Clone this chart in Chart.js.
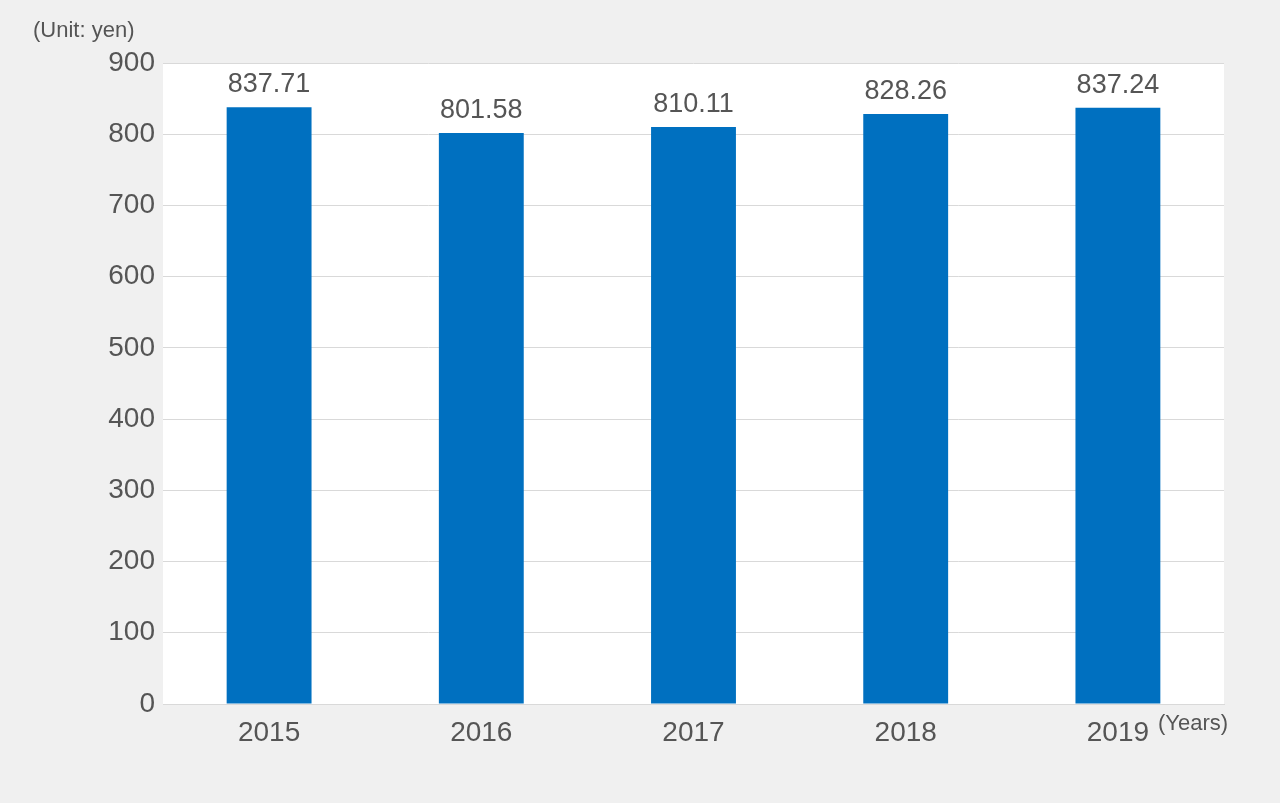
<!DOCTYPE html>
<html>
<head>
<meta charset="utf-8">
<script src="https://cdn.jsdelivr.net/npm/chart.js@4"></script>
<style>
  html, body { margin: 0; padding: 0; background: #f0f0f0; }
  #wrap { position: relative; width: 1280px; height: 803px; }
</style>
</head>
<body>
<div id="wrap"><canvas id="chart" width="1280" height="803"></canvas></div>
<script>
// Chart data
const years = ['2015', '2016', '2017', '2018', '2019'];
const values = [837.71, 801.58, 810.11, 828.26, 837.24];
const valueLabels = ['837.71', '801.58', '810.11', '828.26', '837.24'];

const FONT = 'Arial, "Liberation Sans", sans-serif';
const TEXT = '#555555';

// White plot area, value labels and unit texts
const extras = {
  id: 'extras',
  beforeDraw(chart) {
    const { ctx, chartArea: a } = chart;
    ctx.save();
    ctx.fillStyle = '#ffffff';
    ctx.fillRect(a.left, a.top, a.right - a.left, a.bottom - a.top);
    ctx.restore();
  },
  afterDatasetsDraw(chart) {
    const ctx = chart.ctx;
    const meta = chart.getDatasetMeta(0);
    ctx.save();
    ctx.fillStyle = TEXT;
    ctx.font = '27px ' + FONT;
    ctx.textAlign = 'center';
    ctx.textBaseline = 'bottom';
    meta.data.forEach((bar, i) => {
      ctx.fillText(valueLabels[i], bar.x, bar.y - 9);
    });
    ctx.font = '22px ' + FONT;
    ctx.textAlign = 'left';
    ctx.textBaseline = 'middle';
    ctx.fillText('(Unit: yen)', 33, 31);
    ctx.fillText('(Years)', 1158, 724);
    ctx.restore();
  }
};

new Chart(document.getElementById('chart'), {
  type: 'bar',
  data: {
    labels: years,
    datasets: [{
      data: values,
      backgroundColor: '#0070c0',
      barPercentage: 0.8,
      categoryPercentage: 0.5
    }]
  },
  options: {
    responsive: false,
    animation: false,
    devicePixelRatio: 1,
    layout: { padding: { top: 63, right: 56, left: 0, bottom: 0 } },
    plugins: { legend: { display: false }, tooltip: { enabled: false } },
    scales: {
      x: {
        grid: { display: false },
        border: { color: '#d9d9d9' },
        ticks: { color: TEXT, font: { family: FONT, size: 28 }, padding: 4 },
        afterFit: s => { s.height = 99; }
      },
      y: {
        min: 0,
        max: 900,
        ticks: { stepSize: 100, color: TEXT, font: { family: FONT, size: 28 }, padding: 8 },
        grid: { color: '#d9d9d9', drawTicks: false },
        border: { display: false },
        afterFit: s => { s.width = 163; }
      }
    }
  },
  plugins: [extras]
});
</script>
</body>
</html>
